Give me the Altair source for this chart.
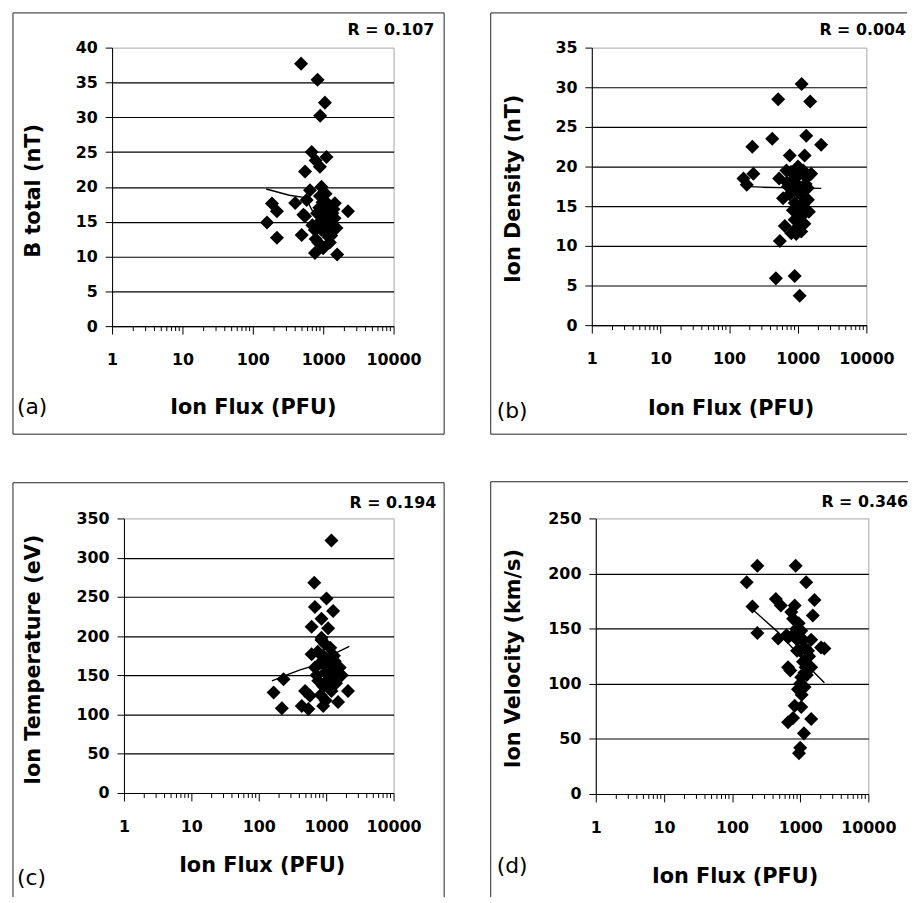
import altair as alt
import pandas as pd

# ---------------- data ----------------
flux_ticks = [1, 10, 100, 1000, 10000]
minor_ticks = [2, 3, 4, 5, 6, 7, 8, 9,
               20, 30, 40, 50, 60, 70, 80, 90,
               200, 300, 400, 500, 600, 700, 800, 900,
               2000, 3000, 4000, 5000, 6000, 7000, 8000, 9000]

r_labels = ["R = 0.107", "R = 0.004", "R = 0.194", "R = 0.346"]
panel_labels = ["(a)", "(b)", "(c)", "(d)"]
y_titles = ["B total (nT)", "Ion Density (nT)", "Ion Temperature (eV)", "Ion Velocity (km/s)"]
x_title = "Ion Flux (PFU)"

# (flux, B total)
a_points = [(485, 37.7), (832, 35.4), (1057, 32.1), (907, 30.2), (686, 25.0), (1114, 24.3),
            (780, 23.8), (552, 22.2), (898, 22.9), (946, 20.0), (649, 19.5), (582, 18.1),
            (187, 17.6), (220, 16.5), (159, 14.9), (220, 12.7), (400, 17.7), (1462, 17.65),
            (2250, 16.5), (1057, 16.7), (523, 16.0), (552, 15.8), (1309, 15.3), (1542, 14.1),
            (495, 13.1), (1114, 13.4), (850, 12.0), (1242, 12.0), (764, 10.5), (1580, 10.3),
            (950, 13.8), (1180, 17.5), (700, 14.5), (1000, 15.5), (1350, 16.2), (880, 17.0),
            (1120, 14.8), (1400, 16.8), (780, 12.5), (1000, 11.2), (1230, 14.0), (900, 18.7),
            (900, 15.0), (1050, 14.2), (1150, 16.0), (1300, 13.0), (980, 17.8), (1200, 12.8),
            (820, 16.2), (1450, 15.5), (1080, 19.0), (760, 13.8)]
a_trend = [(155, 19.7), (330, 18.8), (520, 18.5), (620, 17.6), (800, 15.5), (1000, 13.0)]

# (flux, ion density)
b_points = [(1140, 30.4), (519, 28.5), (1518, 28.2), (425, 23.5), (1330, 23.9), (2193, 22.75),
            (218, 22.5), (765, 21.4), (1260, 21.4), (226, 19.1), (162, 18.5), (181, 17.7),
            (536, 18.5), (684, 19.5), (1009, 20.0), (1570, 19.1), (723, 17.5), (1125, 17.0),
            (612, 16.0), (1407, 15.8), (903, 15.4), (1453, 14.3), (1067, 13.7), (648, 12.5),
            (903, 13.3), (1125, 11.8), (807, 11.6), (1260, 14.1), (549, 10.6), (480, 5.9),
            (902, 6.2), (1067, 3.7), (850, 18.2), (1000, 18.8), (760, 16.5), (1300, 17.8),
            (950, 19.0), (1180, 16.2), (700, 18.0), (1100, 14.8), (880, 17.0), (1350, 18.6),
            (980, 12.3), (900, 17.8), (1050, 17.5), (800, 19.3), (1200, 19.5), (1000, 16.8),
            (1150, 15.2), (850, 14.5), (1250, 12.8), (950, 11.5), (1400, 17.3)]
b_trend = [(165, 17.5), (300, 17.4), (2200, 17.25)]

# (flux, ion temperature)
c_points = [(1197, 322), (666, 268), (1011, 248), (681, 237), (1268, 232), (853, 222),
            (608, 212), (1070, 210), (853, 198), (960, 190), (1150, 185), (608, 177),
            (750, 180), (1341, 168), (1000, 172), (1585, 160), (681, 160), (900, 165),
            (1250, 155), (763, 143), (1197, 147), (1050, 150), (166, 128), (233, 145),
            (220, 108), (486, 130), (575, 124), (434, 111), (544, 107), (903, 111),
            (903, 136), (1500, 116), (2108, 130), (1197, 130), (830, 125), (1400, 140),
            (1700, 150), (720, 150), (1100, 160), (980, 118), (900, 175), (1100, 170),
            (1300, 175), (800, 165), (1000, 155), (1200, 165), (950, 140), (1150, 135),
            (1400, 155), (850, 195)]
c_trend = [(157, 143), (250, 150), (410, 157), (700, 163), (1000, 172), (1500, 180), (2200, 187)]

# (flux, ion velocity)
d_points = [(164, 192), (235, 207), (199, 170), (235, 146), (439, 177), (520, 171),
            (859, 207), (1225, 192), (1622, 176), (1531, 162), (2265, 132), (830, 171),
            (785, 159), (741, 165), (663, 142), (1036, 148), (1448, 140), (2024, 133),
            (1159, 133), (716, 112), (663, 115), (1296, 124), (1448, 115), (1036, 106),
            (1159, 97), (927, 95), (830, 80), (1036, 79), (663, 65), (785, 69),
            (1448, 68), (1134, 55), (1000, 42), (960, 37), (475, 141), (627, 144),
            (900, 140), (1100, 120), (1250, 108), (880, 150), (1000, 130), (900, 130),
            (1100, 140), (1300, 130), (800, 145), (1200, 115), (1000, 100), (1150, 110),
            (1350, 125), (950, 155), (1050, 90)]
d_trend = [(195, 168), (450, 148), (1000, 125), (1620, 110), (2265, 101)]

y_max = [40, 35, 350, 250]
y_step = [5, 5, 50, 50]

FONT = "DejaVu Sans"
ONE = pd.DataFrame({"k": [0]})


def edge(x1, y1, x2, y2):
    return alt.Chart(ONE).mark_rule(color="#222222", strokeWidth=1).encode(
        x=alt.value(x1), x2=alt.value(x2), y=alt.value(y1), y2=alt.value(y2))


def panel(i, points, trend, w, h, lay):
    df = pd.DataFrame(points, columns=["flux", "val"])
    tdf = pd.DataFrame(trend, columns=["flux", "val"])
    mdf = pd.DataFrame({"flux": minor_ticks})
    xs = alt.Scale(type="log", domain=[1, 10000], nice=False)
    ys = alt.Scale(domain=[0, y_max[i]], nice=False, zero=True)
    yvals = list(range(0, y_max[i] + 1, y_step[i]))

    xax = alt.Axis(values=flux_ticks, format="d", grid=False, tickSize=8,
                   labelPadding=18, labelFlush=False, labelOverlap=False,
                   title=x_title, titleX=lay["xtx"], titleY=lay["xty"],
                   titleAlign="center", titleBaseline="middle")
    yax = alt.Axis(values=yvals, grid=True, gridColor="black", gridWidth=1.2,
                   gridOpacity={"condition": {"test": f"datum.value >= {y_max[i]}",
                                              "value": 0}, "value": 1},
                   tickSize=7, labelPadding=8, title=y_titles[i],
                   titleX=lay["ytx"], titleY=lay["yty"], titleAngle=270,
                   titleAlign="center", titleBaseline="middle")
    X = alt.X("flux:Q", scale=xs, axis=xax)
    Y = alt.Y("val:Q", scale=ys, axis=yax)

    pts = alt.Chart(df).mark_point(shape="diamond", filled=True, color="black",
                                   size=200, opacity=1).encode(x=X, y=Y)
    minor = alt.Chart(mdf).mark_rule(color="black", strokeWidth=1).encode(
        x=X, y=alt.value(h), y2=alt.value(h + 5))
    line = alt.Chart(tdf).mark_line(color="black", strokeWidth=1.4).encode(x=X, y=Y)
    rtext = alt.Chart(ONE).mark_text(align="right", baseline="middle", font=FONT,
                                     fontWeight="bold", fontSize=16, color="black").encode(
        x=alt.value(lay["rx"]), y=alt.value(lay["ry"]), text=alt.value(r_labels[i]))
    ptext = alt.Chart(ONE).mark_text(align="left", baseline="middle", font=FONT,
                                     fontSize=22, color="black").encode(
        x=alt.value(lay["px"]), y=alt.value(lay["py"]), text=alt.value(panel_labels[i]))
    edges = [edge(*e) for e in lay["edges"]]
    return alt.layer(*edges, pts, minor, line, rtext, ptext).properties(
        width=w, height=h, view=alt.ViewBackground(stroke="#a6a6a6", strokeWidth=1))


def spacer(w):
    return alt.Chart(ONE).mark_point(opacity=0, size=1).encode(
        x=alt.value(0), y=alt.value(0)).properties(
        width=w, height=1, view=alt.ViewBackground(stroke="transparent"))


lay_a = dict(xtx=142, xty=82, ytx=-79, yty=144, rx=325, ry=-18, px=-96, py=363,
             edges=[(-100, -35, 335, -35), (-100, 390, 335, 390),
                    (-100, -35, -100, 390), (335, -35, 335, 390)])
lay_b = dict(xtx=140, xty=84, ytx=-79, yty=142, rx=317, ry=-18, px=-96, py=367,
             edges=[(-102, -35, 318, -35), (-102, 390, 318, 390), (-102, -35, -102, 390)])
lay_c = dict(xtx=139, xty=73, ytx=-91, yty=142, rx=315, ry=-16, px=-108, py=363,
             edges=[(-112, -36, 323, -36), (-112, -36, -112, 382), (323, -36, 323, 382)])
lay_d = dict(xtx=140, xty=83, ytx=-83, yty=141, rx=315, ry=-17, px=-100, py=351,
             edges=[(-106, -37, 315, -37), (-106, -37, -106, 382)])

pa = panel(0, a_points, a_trend, 284, 281, lay_a)
pb = panel(1, b_points, b_trend, 277, 280, lay_b)
pc = panel(2, c_points, c_trend, 272, 277, lay_c)
pdd = panel(3, d_points, d_trend, 275, 278, lay_d)

row1 = alt.hconcat(pa, pb, spacing=200, bounds="flush")
row2 = alt.hconcat(spacer(1), pc, spacer(182), pdd, spacing=11, bounds="flush")

chart = alt.vconcat(row1, row2, spacing=46).properties(
    padding={"left": 4, "top": 0, "right": 0, "bottom": 0},
    background="white",
).configure_axis(
    labelFont=FONT, labelFontWeight="bold", labelFontSize=16, labelColor="black",
    titleFont=FONT, titleFontWeight="bold", titleFontSize=21, titleColor="black",
    domainColor="black", domainWidth=1, tickColor="black", tickWidth=1,
).configure_view(stroke="#a6a6a6")

chart.save("out.html", embed_options={"renderer": "svg", "actions": False})
